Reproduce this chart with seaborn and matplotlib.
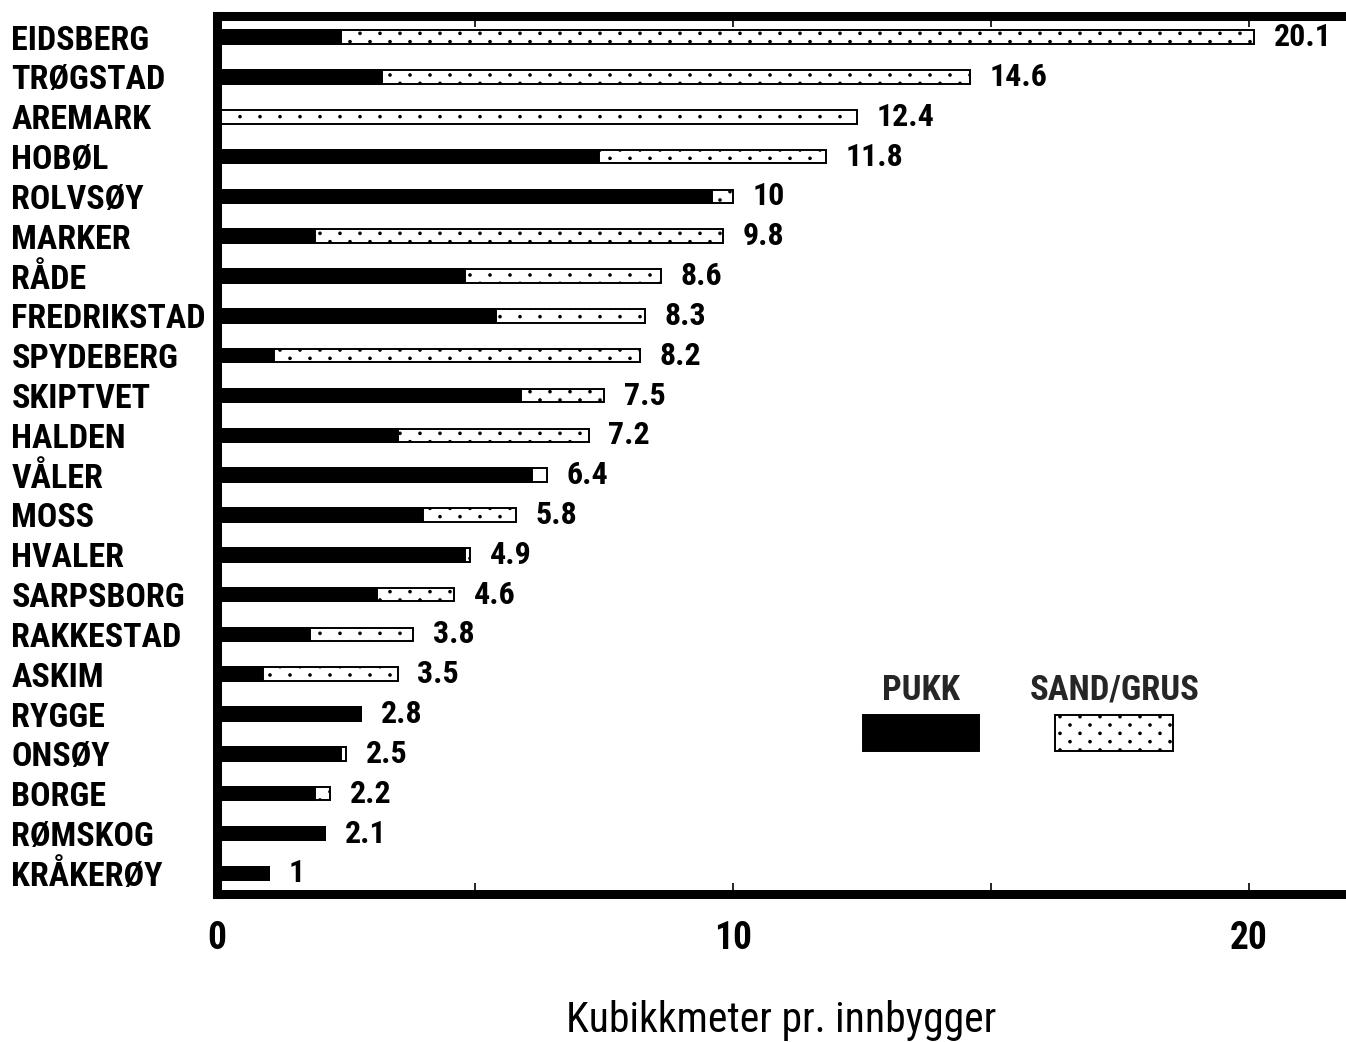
import matplotlib
matplotlib.use("Agg")
import numpy as np
import matplotlib.pyplot as plt
import seaborn as sns
import pandas as pd
from matplotlib import font_manager
from matplotlib import hatch as mhatch
from matplotlib.path import Path
from matplotlib.patches import Rectangle

# Kommuner i Østfold, sortert etter samlet forbruk
kommuner = ["EIDSBERG", "TRØGSTAD", "AREMARK", "HOBØL", "ROLVSØY", "MARKER",
            "RÅDE", "FREDRIKSTAD", "SPYDEBERG", "SKIPTVET", "HALDEN", "VÅLER",
            "MOSS", "HVALER", "SARPSBORG", "RAKKESTAD", "ASKIM", "RYGGE",
            "ONSØY", "BORGE", "RØMSKOG", "KRÅKERØY"]
# Pukk (m3 per innbygger)
pukk = [2.4, 3.2, 0.0, 7.4, 9.6, 1.9, 4.8, 5.4, 1.1, 5.9, 3.5, 6.1,
        4.0, 4.8, 3.1, 1.8, 0.9, 2.8, 2.4, 1.9, 2.1, 1.0]
# Samlet forbruk, pukk + sand/grus (m3 per innbygger)
totalt = [20.1, 14.6, 12.4, 11.8, 10.0, 9.8, 8.6, 8.3, 8.2, 7.5, 7.2, 6.4,
          5.8, 4.9, 4.6, 3.8, 3.5, 2.8, 2.5, 2.2, 2.1, 1.0]
x_ticks = [0, 5, 10, 15, 20]
x_ticklabels = ["0", "", "10", "", "20"]


class DiagonalDots(mhatch.HatchPatternBase):
    """Sparse dots laid out along diagonal lines, used for the '.' hatch."""

    def __init__(self, hatch, density):
        circ = Path.unit_circle()
        self.shape_vertices = circ.vertices * 0.011
        self.shape_codes = circ.codes
        centers = []
        if hatch.count(".") > 0:
            for j in range(-1, 14):
                for i in range(-10, 10):
                    cx = i * 0.2 + j * 0.1
                    cy = j / 12.0
                    if -0.03 <= cx <= 1.03 and -0.03 <= cy <= 1.03:
                        centers.append((cx, cy))
        self.centers = centers
        self.num_vertices = len(centers) * len(self.shape_vertices)

    def set_vertices_and_codes(self, vertices, codes):
        n = len(self.shape_vertices)
        for k, (cx, cy) in enumerate(self.centers):
            vertices[k * n:(k + 1) * n] = self.shape_vertices + np.array([cx, cy])
            codes[k * n:(k + 1) * n] = self.shape_codes


mhatch._hatch_types = [DiagonalDots if t is mhatch.SmallFilledCircles else t
                       for t in mhatch._hatch_types]

sns.set_theme(style="white")
available = {f.name for f in font_manager.fontManager.ttflist}
family = "Liberation Sans"
for cand in ["Roboto Condensed", "Liberation Sans Narrow", "Arial Narrow"]:
    if cand in available:
        family = cand
        break
plt.rcParams["font.family"] = [family, "DejaVu Sans"]
plt.rcParams["hatch.linewidth"] = 1.0
plt.rcParams["hatch.color"] = "black"

df = pd.DataFrame({"kommune": kommuner, "pukk": pukk, "totalt": totalt})

fig = plt.figure(figsize=(13.46, 10.42), dpi=100)
ax = fig.add_axes([0.1612, 0.142, 0.8388, 0.8426])

# Sand/grus: full bar to total, pukk drawn over it from zero
sns.barplot(data=df, x="totalt", y="kommune", orient="h", color="white",
            edgecolor="black", linewidth=1.4, hatch=".", width=0.34,
            saturation=1, errorbar=None, ax=ax)
sns.barplot(data=df, x="pukk", y="kommune", orient="h", color="black",
            edgecolor="black", linewidth=1.4, width=0.34,
            saturation=1, errorbar=None, ax=ax)

for i, t in enumerate(totalt):
    ax.text(t + 0.38, i, f"{t:g}", va="center", ha="left",
            fontsize=23, fontweight="bold", color="black")

n = len(kommuner)
ax.set_xlim(0, 21.88)
ax.set_ylim(n - 0.48, -0.53)

ax.set_xticks(x_ticks)
ax.set_xticklabels(x_ticklabels, fontsize=27, fontweight="bold")
ax.tick_params(axis="x", direction="in", length=8, width=1.2, color="black",
               top=True, bottom=True, pad=19)
ax.tick_params(axis="y", length=0, pad=148)
for lab in ax.get_yticklabels():
    lab.set_ha("left")
    lab.set_fontsize(24.5)
    lab.set_fontweight("bold")
    lab.set_color("black")
for lab in ax.get_xticklabels():
    lab.set_color("black")

for side in ["left", "top", "bottom"]:
    ax.spines[side].set_linewidth(6.5)
    ax.spines[side].set_color("black")
ax.spines["right"].set_visible(False)

ax.set_ylabel("")
ax.set_xlabel("Kubikkmeter pr. innbygger", fontsize=30, labelpad=31,
              color="black")

# Legend
ax.add_patch(Rectangle((0.572, 0.163), 0.1027, 0.041, transform=ax.transAxes,
                       facecolor="black", edgecolor="black", linewidth=1.4,
                       clip_on=False))
ax.add_patch(Rectangle((0.742, 0.163), 0.1045, 0.041, transform=ax.transAxes,
                       facecolor="white", edgecolor="black", linewidth=1.4,
                       hatch=".", clip_on=False))
ax.text(0.624, 0.232, "PUKK", transform=ax.transAxes, ha="center",
        va="center", fontsize=25, fontweight="bold")
ax.text(0.795, 0.232, "SAND/GRUS", transform=ax.transAxes, ha="center",
        va="center", fontsize=25, fontweight="bold")

fig.savefig("out.png", dpi=100, facecolor="white")
